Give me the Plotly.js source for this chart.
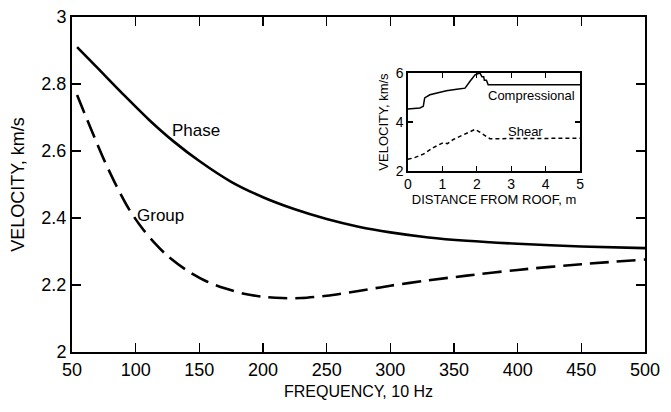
<!DOCTYPE html>
<html>
<head>
<meta charset="utf-8">
<script src="https://cdn.plot.ly/plotly-3.0.1.min.js"></script>
<style>html,body{margin:0;padding:0;background:#fff;}#chart{width:671px;height:412px;}</style>
</head>
<body>
<div id="chart"></div>
<script>
// Main chart: frequency (x10 Hz) vs velocity (km/s)
const freqPhase = [54, 70, 90, 110, 130, 150, 175, 200, 225, 250, 275, 300, 330, 360, 400, 450, 500];
const phaseVel  = [2.91, 2.848, 2.77, 2.695, 2.628, 2.57, 2.508, 2.462, 2.426, 2.397, 2.374, 2.357, 2.342, 2.332, 2.323, 2.315, 2.31];

const freqGroup = [54, 65, 75, 85, 95, 105, 115, 125, 140, 155, 170, 185, 200, 215, 230, 250, 275, 300, 330, 360, 400, 450, 500];
const groupVel  = [2.767, 2.665, 2.575, 2.495, 2.425, 2.37, 2.325, 2.287, 2.244, 2.212, 2.19, 2.174, 2.165, 2.161, 2.161, 2.168, 2.182, 2.198, 2.214, 2.228, 2.245, 2.262, 2.276];

// Inset: velocity model vs distance from roof (m)
const distComp = [0, 0.35, 0.45, 0.49, 0.64, 0.83, 1.12, 1.42, 1.66, 1.80, 1.95, 2.09, 2.15, 2.2, 2.22, 2.28, 2.33, 5];
const compVel  = [4.53, 4.57, 4.64, 4.98, 5.11, 5.18, 5.27, 5.34, 5.38, 5.65, 5.92, 6.0, 5.85, 5.85, 5.7, 5.7, 5.52, 5.52];

const distShear = [0, 0.2, 0.45, 0.74, 1.03, 1.15, 1.32, 1.61, 1.95, 2.05, 2.19, 2.38, 5];
const shearVel  = [2.48, 2.55, 2.69, 2.96, 3.16, 3.12, 3.29, 3.49, 3.70, 3.62, 3.49, 3.32, 3.34];

const xTicks = [50, 100, 150, 200, 250, 300, 350, 400, 450, 500];
const yTicks = [2, 2.2, 2.4, 2.6, 2.8, 3];

const FONT = 'Liberation Sans, Arial, sans-serif';

const traces = [
  {x: freqPhase, y: phaseVel, type: 'scatter', mode: 'lines', name: 'Phase',
   line: {color: '#000', width: 2.6, shape: 'spline', smoothing: 0.8}, xaxis: 'x', yaxis: 'y'},
  {x: freqGroup, y: groupVel, type: 'scatter', mode: 'lines', name: 'Group',
   line: {color: '#000', width: 2.6, dash: '19px,8px', shape: 'spline', smoothing: 0.8}, xaxis: 'x', yaxis: 'y'},
  {x: distComp, y: compVel, type: 'scatter', mode: 'lines', name: 'Compressional',
   line: {color: '#000', width: 1.5}, xaxis: 'x2', yaxis: 'y2'},
  {x: distShear, y: shearVel, type: 'scatter', mode: 'lines', name: 'Shear',
   line: {color: '#000', width: 1.5, dash: '4px,3px'}, xaxis: 'x2', yaxis: 'y2'}
];

const axCommon = {showgrid: false, zeroline: false, showline: true, linecolor: '#000',
  mirror: 'ticks', ticks: 'inside', tickcolor: '#000'};

const layout = {
  width: 671, height: 412,
  margin: {l: 72, r: 26, t: 17, b: 60},
  paper_bgcolor: '#fff', plot_bgcolor: '#fff',
  showlegend: false,
  font: {family: FONT, color: '#000'},
  xaxis: Object.assign({}, axCommon, {
    range: [50, 500], tickvals: xTicks, ticktext: xTicks.map(String),
    linewidth: 2, ticklen: 9, tickwidth: 1.5,
    tickfont: {size: 18}, automargin: false,
    title: {text: 'FREQUENCY, 10 Hz', font: {size: 16}, standoff: 7}
  }),
  yaxis: Object.assign({}, axCommon, {
    range: [2, 3], tickvals: yTicks, ticktext: yTicks.map(v => String(v)),
    linewidth: 2, ticklen: 9, tickwidth: 1.5,
    tickfont: {size: 18}, automargin: false,
    title: {text: 'VELOCITY, km/s', font: {size: 18}, standoff: 12}
  }),
  xaxis2: Object.assign({}, axCommon, {
    domain: [0.586, 0.887], anchor: 'y2', range: [0, 5], dtick: 1, tick0: 0,
    linewidth: 1.5, ticklen: 5, tickwidth: 1.2,
    tickfont: {size: 14}, automargin: false,
    title: {text: 'DISTANCE FROM ROOF, m', font: {size: 13}, standoff: 2}
  }),
  yaxis2: Object.assign({}, axCommon, {
    domain: [0.540, 0.833], anchor: 'x2', range: [2, 6], tickvals: [2, 4, 6],
    linewidth: 1.5, ticklen: 5, tickwidth: 1.2,
    tickfont: {size: 14}, automargin: false,
    title: {text: 'VELOCITY, km/s', font: {size: 13}, standoff: 4}
  }),
  annotations: [
    {text: 'Phase', x: 127, y: 2.66, xref: 'x', yref: 'y', xanchor: 'left', yanchor: 'middle',
     showarrow: false, font: {size: 17}},
    {text: 'Group', x: 99.5, y: 2.406, xref: 'x', yref: 'y', xanchor: 'left', yanchor: 'middle',
     showarrow: false, font: {size: 17}},
    {text: 'Model', x: 2.37, y: 6.46, xref: 'x2', yref: 'y2', xanchor: 'center', yanchor: 'middle',
     showarrow: false, font: {size: 17}},
    {text: 'Compressional', x: 3.6, y: 5.07, xref: 'x2', yref: 'y2', xanchor: 'center', yanchor: 'middle',
     showarrow: false, font: {size: 13}},
    {text: 'Shear', x: 3.4, y: 3.62, xref: 'x2', yref: 'y2', xanchor: 'center', yanchor: 'middle',
     showarrow: false, font: {size: 13}}
  ]
};

Plotly.newPlot('chart', traces, layout, {displayModeBar: false, staticPlot: true});
</script>
</body>
</html>
